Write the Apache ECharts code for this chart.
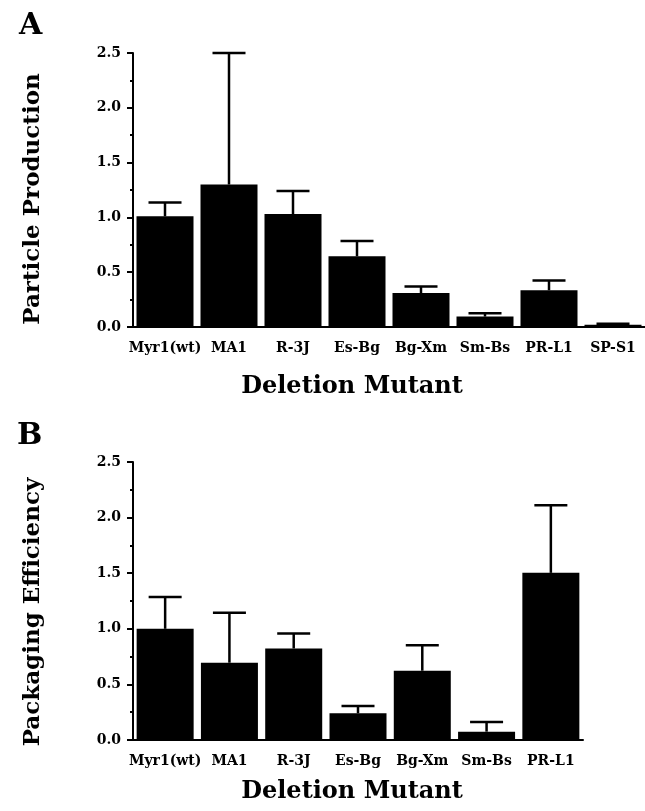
<!DOCTYPE html>
<html>
<head>
<meta charset="utf-8">
<script src="https://cdn.jsdelivr.net/npm/echarts@6/dist/echarts.min.js"></script>
<style>
  html, body { margin: 0; padding: 0; background: #fff; }
  #main { width: 645px; height: 811px; }
</style>
</head>
<body>
<div id="main"></div>
<script>
var chartDom = document.getElementById('main');
var myChart = echarts.init(chartDom);

const mutantsA = ['Myr1(wt)', 'MA1', 'R-3J', 'Es-Bg', 'Bg-Xm', 'Sm-Bs', 'PR-L1', 'SP-S1'];
const particleMean = [1.01, 1.30, 1.03, 0.645, 0.31, 0.095, 0.335, 0.02];
const particleErr = [0.125, 1.2, 0.21, 0.14, 0.06, 0.03, 0.09, 0.01];

const mutantsB = ['Myr1(wt)', 'MA1', 'R-3J', 'Es-Bg', 'Bg-Xm', 'Sm-Bs', 'PR-L1'];
const packagingMean = [1.0, 0.695, 0.823, 0.24, 0.623, 0.075, 1.503];
const packagingErr = [0.287, 0.449, 0.135, 0.065, 0.23, 0.087, 0.607];

const yTicks = [0, 0.5, 1.0, 1.5, 2.0, 2.5];

const font = 'DejaVu Serif';

function errorData(mean, err) {
  return mean.map((m, i) => [i, m, m + err[i]]);
}

// only the upper whisker is drawn, like in the figure
function renderError(params, api) {
  const base = api.coord([api.value(0), api.value(1)]);
  const top = api.coord([api.value(0), api.value(2)]);
  const half = 16.5;
  const style = { stroke: '#000', lineWidth: 2.5 };
  return {
    type: 'group',
    children: [
      { type: 'line', shape: { x1: base[0], y1: base[1], x2: top[0], y2: top[1] }, style },
      { type: 'line', shape: { x1: top[0] - half, y1: top[1], x2: top[0] + half, y2: top[1] }, style }
    ]
  };
}

function xAxisFor(idx, cats, padRight, gap) {
  return {
    type: 'category',
    gridIndex: idx,
    data: cats,
    name: 'Deletion Mutant',
    nameLocation: 'middle',
    nameGap: gap,
    nameTextStyle: { fontFamily: font, fontWeight: 'bold', fontSize: 24, color: '#000', padding: [0, padRight, 0, 0] },
    axisLine: { lineStyle: { color: '#000', width: 2 } },
    axisTick: { alignWithLabel: true, length: 7, lineStyle: { color: '#000', width: 2 } },
    axisLabel: { fontFamily: font, fontWeight: 'bold', fontSize: 14, color: '#000', margin: 14, interval: 0 }
  };
}

// padding on the right of the rotated name moves it down the page
function yAxisFor(idx, name, shift) {
  return {
    type: 'value',
    gridIndex: idx,
    min: 0,
    max: 2.5,
    interval: 0.5,
    name: name,
    nameLocation: 'middle',
    nameGap: 88,
    nameRotate: 90,
    nameTextStyle: { fontFamily: font, fontWeight: 'bold', fontSize: 23, color: '#000', padding: [0, shift, 0, 0] },
    axisLine: { show: true, lineStyle: { color: '#000', width: 2 } },
    axisTick: { show: true, length: 6, lineStyle: { color: '#000', width: 2 } },
    minorTick: { show: true, splitNumber: 2, length: 3, lineStyle: { color: '#000', width: 2 } },
    splitLine: { show: false },
    axisLabel: {
      fontFamily: font, fontWeight: 'bold', fontSize: 14, color: '#000', margin: 12,
      formatter: v => yTicks.indexOf(v) >= 0 ? v.toFixed(1) : ''
    }
  };
}

var option = {
  backgroundColor: '#fff',
  animation: false,
  title: [
    { text: 'A', left: 14, top: 6, textStyle: { fontFamily: font, fontWeight: 'bold', fontSize: 30, color: '#000' } },
    { text: 'B', left: 12, top: 416, textStyle: { fontFamily: font, fontWeight: 'bold', fontSize: 30, color: '#000' } }
  ],
  grid: [
    { left: 133, top: 53, width: 512, height: 274 },
    { left: 133, top: 462, width: 450, height: 278 }
  ],
  xAxis: [xAxisFor(0, mutantsA, 74, 48), xAxisFor(1, mutantsB, 12, 40)],
  yAxis: [yAxisFor(0, 'Particle Production', 18), yAxisFor(1, 'Packaging Efficiency', 22)],
  series: [
    { type: 'bar', xAxisIndex: 0, yAxisIndex: 0, data: particleMean, barWidth: 57, itemStyle: { color: '#000' } },
    { type: 'custom', xAxisIndex: 0, yAxisIndex: 0, data: errorData(particleMean, particleErr), renderItem: renderError, z: 3 },
    { type: 'bar', xAxisIndex: 1, yAxisIndex: 1, data: packagingMean, barWidth: 57, itemStyle: { color: '#000' } },
    { type: 'custom', xAxisIndex: 1, yAxisIndex: 1, data: errorData(packagingMean, packagingErr), renderItem: renderError, z: 3 }
  ]
};

option && myChart.setOption(option);
</script>
</body>
</html>
